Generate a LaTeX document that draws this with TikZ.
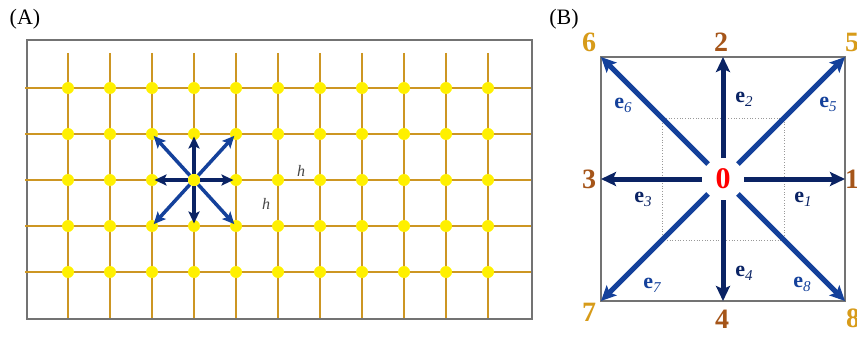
\documentclass[tikz,border=0pt]{standalone}
\usepackage{fontspec}
\setmainfont{Liberation Serif}
\usetikzlibrary{arrows.meta}
\definecolor{gridc}{RGB}{205,150,35}
\definecolor{dotc}{RGB}{255,240,0}
\definecolor{navyc}{RGB}{10,35,100}
\definecolor{bluec}{RGB}{20,65,155}
\definecolor{brownc}{RGB}{165,85,25}
\definecolor{goldc}{RGB}{215,155,25}
\definecolor{boxc}{RGB}{115,115,115}
\definecolor{hc}{RGB}{70,70,70}
\newcommand{\evec}[1]{{\fontsize{22}{22}\selectfont\bfseries e}\raisebox{-4pt}{\fontsize{15}{15}\selectfont\itshape #1}}
\begin{document}
\begin{tikzpicture}[x=1pt,y=-1pt,
  gridline/.style={draw=gridc,line width=2.3pt},
  dotnode/.style={circle,fill=dotc,minimum size=12pt,inner sep=0pt},
  smallarrow/.style={line width=3.5pt,shorten >=2.5pt,-{Stealth[length=12pt,width=11pt,inset=2.5pt]}},
  bigarrow/.style={line width=5pt,-{Stealth[length=15pt,width=14pt,inset=3pt]}},
  panellabel/.style={font=\fontsize{22}{22}\selectfont},
  numlabel/.style={font=\fontsize{28}{28}\selectfont\bfseries},
  hlabel/.style={text=hc,font=\fontsize{16}{16}\selectfont\itshape},
  elabel/.style={inner sep=0pt}
]
\useasboundingbox (0,0) rectangle (857,337);
% ---------- Panel A ----------
\node[panellabel] (labA) at (25,19) {(A)};
\draw[draw=boxc,line width=1.5pt] (27,40) rectangle (532,319);
\foreach \j in {0,...,4}
  \draw[gridline] (25,{88+46*\j}) -- (531,{88+46*\j});
\foreach \i in {0,...,10}
  \draw[gridline] ({68+42*\i},53) -- ({68+42*\i},318);
\foreach \i in {0,...,10}
  \foreach \j in {0,...,4}
    \node[dotnode] (d-\i-\j) at ({68+42*\i},{88+46*\j}) {};
\foreach \t in {d-3-1,d-2-2,d-4-2,d-3-3}
  \draw[smallarrow,navyc] (d-3-2) -- (\t.center);
\foreach \t in {d-2-1,d-4-1,d-2-3,d-4-3}
  \draw[smallarrow,bluec] (d-3-2) -- (\t.center);
\node[dotnode] at (d-3-2) {};
\node[hlabel] (h1) at (301,171) {h};
\node[hlabel] (h2) at (266,204) {h};
% ---------- Panel B ----------
\node[panellabel] (labB) at (564,19) {(B)};
\draw[draw=boxc,line width=1.5pt] (601,57) rectangle (845,301);
\draw[draw=gray!80,dotted,line width=0.7pt] (662,118) rectangle (784,240);
\coordinate (c1) at (845,179);
\coordinate (c2) at (723,57);
\coordinate (c3) at (601,179);
\coordinate (c4) at (723,301);
\coordinate (c5) at (845,57);
\coordinate (c6) at (601,57);
\coordinate (c7) at (601,301);
\coordinate (c8) at (845,301);
\node[circle,minimum size=42pt,inner sep=0pt,text=red,font=\fontsize{30}{30}\selectfont\bfseries] (o) at (723,179) {0};
\foreach \t in {c1,c2,c3,c4}
  \draw[bigarrow,navyc] (o) -- (\t);
\foreach \t in {c5,c6,c7,c8}
  \draw[bigarrow,bluec] (o) -- (\t);
\node[numlabel,text=brownc] (n1) at (852,179) {1};
\node[numlabel,text=brownc] (n2) at (721,42) {2};
\node[numlabel,text=brownc] (n3) at (589,179) {3};
\node[numlabel,text=brownc] (n4) at (722,319) {4};
\node[numlabel,text=goldc] (n5) at (852,42) {5};
\node[numlabel,text=goldc] (n6) at (589,42) {6};
\node[numlabel,text=goldc] (n7) at (589,312) {7};
\node[numlabel,text=goldc] (n8) at (853,318) {8};
\node[elabel,text=navyc] (e1) at (803,199) {\evec{1}};
\node[elabel,text=navyc] (e2) at (744,99) {\evec{2}};
\node[elabel,text=navyc] (e3) at (643,199) {\evec{3}};
\node[elabel,text=navyc] (e4) at (744,273) {\evec{4}};
\node[elabel,text=bluec] (e5) at (828,104) {\evec{5}};
\node[elabel,text=bluec] (e6) at (623,105) {\evec{6}};
\node[elabel,text=bluec] (e7) at (652,285) {\evec{7}};
\node[elabel,text=bluec] (e8) at (802,284) {\evec{8}};
\end{tikzpicture}
\end{document}
